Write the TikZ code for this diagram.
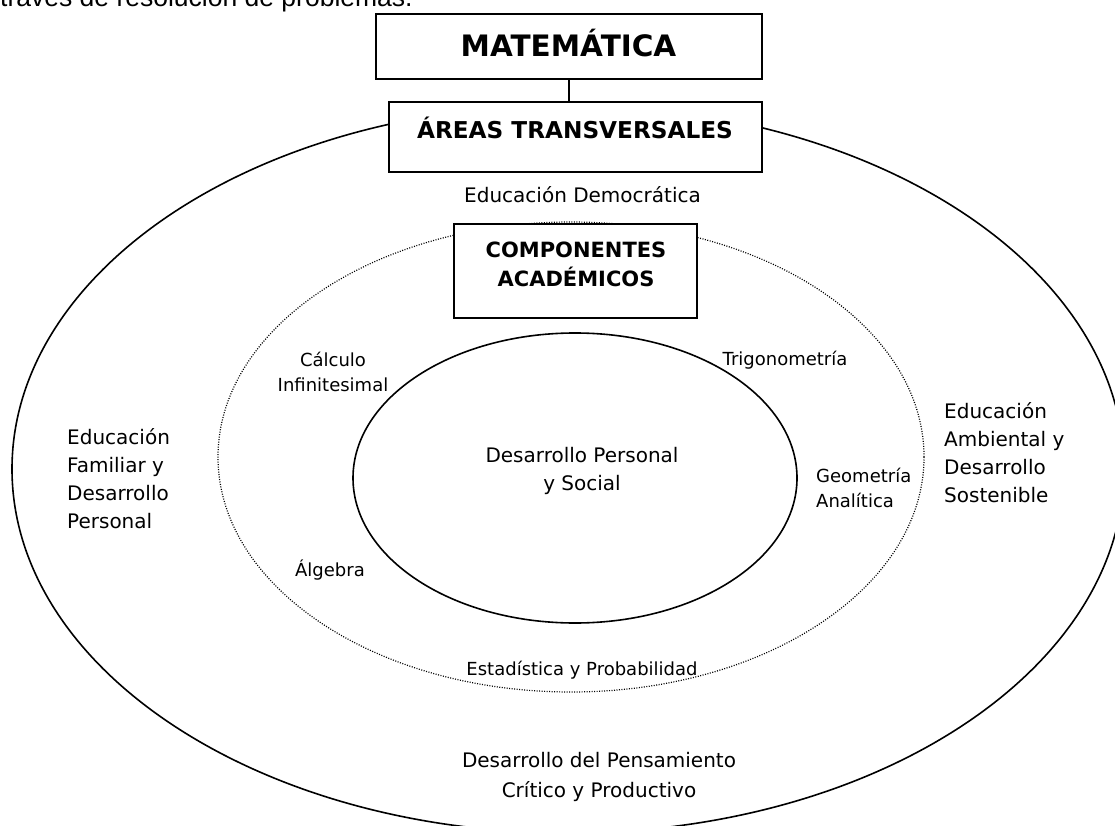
\documentclass[tikz,border=0pt]{standalone}
\usepackage{fontspec}
\setmainfont{DejaVu Sans}
\newfontfamily\arialfont{Liberation Sans}
\begin{document}
\begin{tikzpicture}[x=1pt,y=-1pt,
  box/.style={draw, line width=1.6pt, fill=white, inner sep=0pt},
  ring/.style={draw, line width=1.6pt},
  dotring/.style={draw, line width=1.2pt, dash pattern=on 1pt off 1.5pt},
  bigbold/.style={font=\fontsize{29.5}{34}\selectfont\bfseries, inner sep=0pt, anchor=base},
  midbold/.style={font=\fontsize{23.2}{28}\selectfont\bfseries, inner sep=0pt, anchor=base},
  smallbold/.style={font=\fontsize{21}{29}\selectfont\bfseries, inner sep=0pt, align=center, anchor=base},
  txt/.style={font=\fontsize{20}{28}\selectfont, inner sep=0pt, anchor=base},
  small/.style={font=\fontsize{18}{24.5}\selectfont, inner sep=0pt, anchor=base}
]
\useasboundingbox (0,0) rectangle (1115,826);
\fill[white] (0,0) rectangle (1115,826);

% partially visible sentence at the top
\node[font=\arialfont\fontsize{26.5}{30}\selectfont, inner sep=0pt, anchor=base west] (intro) at (0,7) {través de resolución de problemas.};

% rings
\coordinate (co) at (568,469);
\coordinate (cm) at (571,457);
\coordinate (ci) at (575,478);
\draw[ring] (co) ellipse [x radius=556, y radius=364];
\draw[dotring] (cm) ellipse [x radius=353, y radius=235];
\draw[ring] (ci) ellipse [x radius=222, y radius=145];

% boxes
\node[box, minimum width=386pt, minimum height=65pt] (mat) at (569,46.5) {};
\node[box, minimum width=373pt, minimum height=70pt] (areas) at (575.5,137) {};
\node[box, minimum width=243pt, minimum height=94pt] (comp) at (575.5,271) {};
\draw[line width=1.2pt] (mat.south) -- (mat.south |- areas.north);

% box texts
\node[bigbold] (matt) at (568.5,57) {MATEMÁTICA};
\node[midbold] (areast) at (575,139) {ÁREAS TRANSVERSALES};
\node[smallbold] (compt) at (576,286) {COMPONENTES\\ACADÉMICOS};

% outer ring texts
\node[txt] (democ) at (582.5,203) {Educación Democrática};
\node[txt, anchor=base west, align=left] (famil) at (67,528) {Educación\\Familiar y\\Desarrollo\\Personal};
\node[txt, anchor=base west, align=left] (ambie) at (944,502) {Educación\\Ambiental y\\Desarrollo\\Sostenible};
\node[txt, align=center, font=\fontsize{20}{30}\selectfont] (pensa) at (599,797) {Desarrollo del Pensamiento\\Crítico y Productivo};

% middle ring texts
\node[small, align=center] (calc) at (333,391) {Cálculo\\Infinitesimal};
\node[small] (trig) at (785,365) {Trigonometría};
\node[small, anchor=base west, align=left] (geom) at (816,507) {Geometría\\Analítica};
\node[small] (alge) at (330,576) {Álgebra};
\node[small] (esta) at (582,675) {Estadística y Probabilidad};

% inner
\node[txt, align=center] (desa) at (582,490) {Desarrollo Personal\\y Social};
\end{tikzpicture}
\end{document}
